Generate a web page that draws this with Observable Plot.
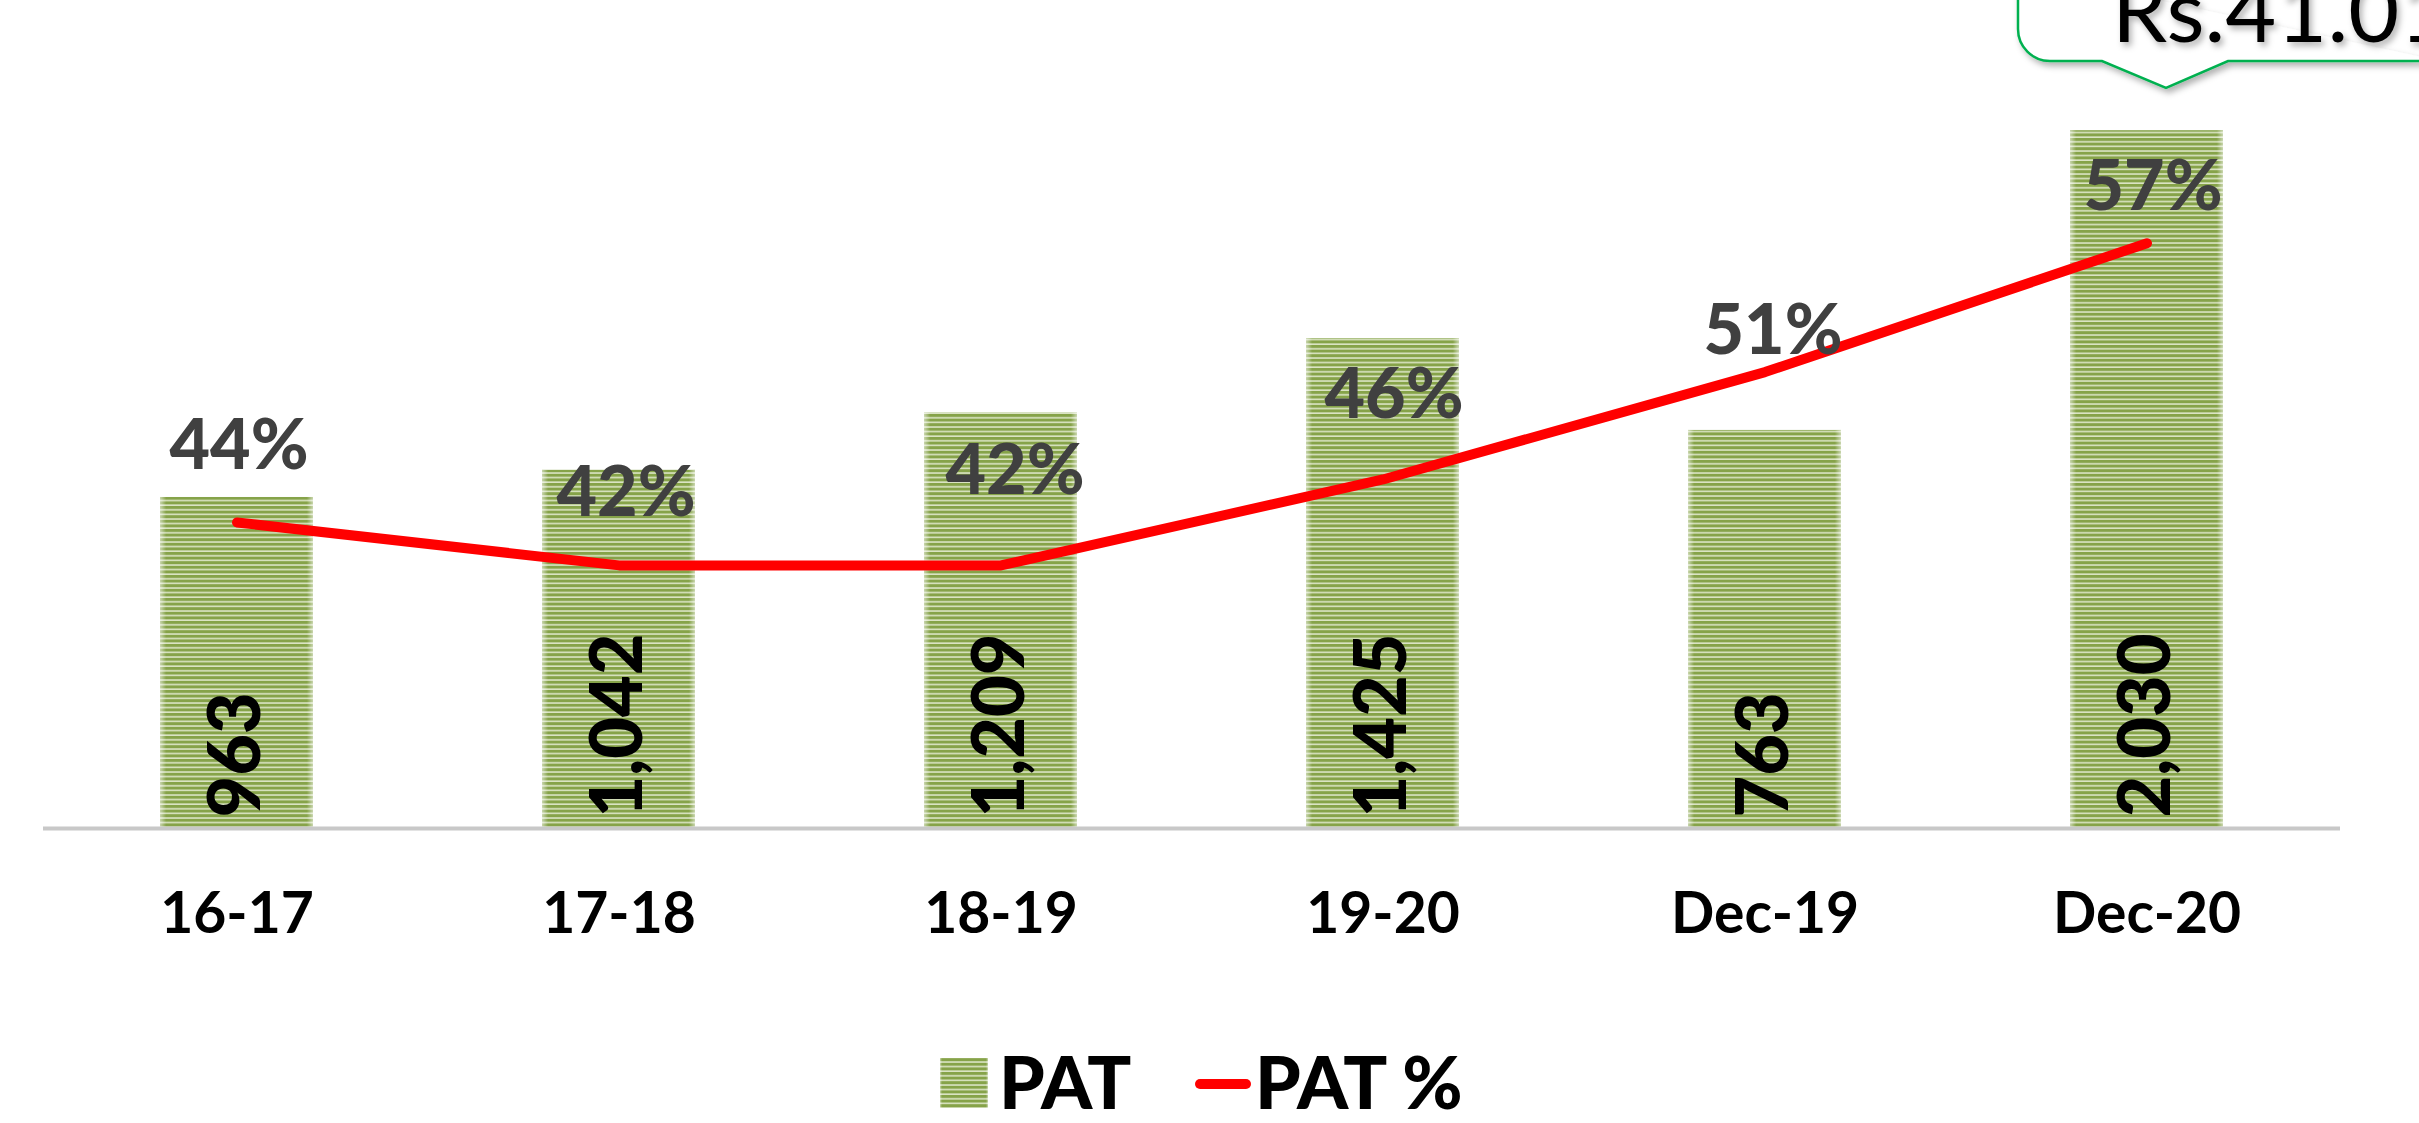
<!DOCTYPE html>
<html>
<head>
<meta charset="utf-8">
<script src="https://cdn.jsdelivr.net/npm/d3@7"></script>
<script src="https://cdn.jsdelivr.net/npm/@observablehq/plot@0.6"></script>
<style>
  html, body { margin: 0; padding: 0; background: #fff; }
  body { width: 2419px; height: 1123px; overflow: hidden; position: relative; font-family: Lato, "Open Sans", sans-serif; }
  #chart { position: absolute; left: 0; top: 0; }
  #legend { position: absolute; left: 0; top: 980px; }
  #callout { position: absolute; left: 0; top: 0; pointer-events: none; }
</style>
</head>
<body>
<svg width="0" height="0" style="position:absolute">
  <defs>
    <pattern id="stripes" patternUnits="userSpaceOnUse" width="10" height="4.6">
      <rect width="10" height="4.6" fill="#dbe4c4"/>
      <rect y="0" width="10" height="3" fill="#86a349"/>
    </pattern>
    <linearGradient id="edgeFade" x1="0" x2="1" y1="0" y2="0">
      <stop offset="0" stop-color="#fff" stop-opacity="0.55"/>
      <stop offset="0.04" stop-color="#fff" stop-opacity="0"/>
      <stop offset="0.96" stop-color="#fff" stop-opacity="0"/>
      <stop offset="1" stop-color="#fff" stop-opacity="0.55"/>
    </linearGradient>
    <filter id="shadow" x="-20%" y="-50%" width="140%" height="200%">
      <feDropShadow dx="3" dy="4" stdDeviation="3" flood-color="#000" flood-opacity="0.3"/>
    </filter>
  </defs>
</svg>
<div id="chart"></div>
<svg id="legend" width="2419" height="143"></svg>
<svg id="callout" width="2419" height="130"></svg>
<script>
// ---- data ----
const categories = ["16-17", "17-18", "18-19", "19-20", "Dec-19", "Dec-20"];
const patValues = [963, 1042, 1209, 1425, 1158, 2030];
const patLabels = ["963", "1,042", "1,209", "1,425", "763", "2,030"];
const patPct = [44, 42, 42, 46, 51, 57];
const pctLabelDx = [2, 7, 14, 11, 8, 6];
const pctLabelDy = [-76, -72, -94, -84, -41, -56];
const legendNames = ["PAT", "PAT %"];
const calloutText = "Rs.41.01";

// secondary (percent) axis mapped onto primary value axis
const pctToValue = d3.scaleLinear().domain([29.75, 60]).range([0, 1890]);

const data = categories.map((c, i) => ({
  cat: c, pat: patValues[i], label: patLabels[i], pct: patPct[i], pctY: pctToValue(patPct[i])
}));

const FONT = "Lato, 'Open Sans', sans-serif";
const W = 2419, H = 980;
const chart = Plot.plot({
  width: W,
  height: H,
  marginTop: 3,
  marginBottom: H - 828,
  marginLeft: 43,
  marginRight: W - 2340,
  style: { fontFamily: FONT, overflow: "visible", background: "transparent" },
  x: { domain: categories, paddingInner: 0.6, paddingOuter: 0.3, label: null },
  y: { domain: [0, 2400], axis: null },
  marks: [
    Plot.barY(data, { x: "cat", y: "pat", fill: "url(#stripes)" }),
    Plot.barY(data, { x: "cat", y: "pat", fill: "url(#edgeFade)" }),
    Plot.ruleY([0], { stroke: "#c8c8c8", strokeWidth: 4 }),
    Plot.text(data, {
      x: "cat", y: () => 0, text: "label", rotate: -90, textAnchor: "start", lineAnchor: "middle",
      dy: -11, fontSize: 72, fontWeight: 900, fill: "#000"
    }),
    Plot.line(data, {
      x: "cat", y: "pctY", stroke: "#ff0000", strokeWidth: 10,
      strokeLinecap: "round", strokeLinejoin: "round"
    }),
    ...data.map((d, i) => Plot.text([d], {
      x: "cat", y: "pctY", text: (e) => e.pct + "%", dx: pctLabelDx[i], dy: pctLabelDy[i],
      lineAnchor: "middle", fontSize: 70, fontWeight: 900, fill: "#404040"
    })),
    Plot.axisX({ tickSize: 0, tickPadding: 64, fontSize: 57, fontWeight: "bold", fill: "#000", color: "#000", label: null })
  ]
});
document.getElementById("chart").appendChild(chart);

// ---- legend ----
const lg = d3.select("#legend");
lg.append("rect").attr("x", 940).attr("y", 78).attr("width", 48).attr("height", 50).attr("fill", "url(#stripes)");
lg.append("rect").attr("x", 940).attr("y", 78).attr("width", 48).attr("height", 50).attr("fill", "url(#edgeFade)");
lg.append("text").attr("x", 999).attr("y", 129).attr("font-size", 73).attr("font-weight", 900)
  .attr("font-family", FONT).attr("fill", "#000").text(legendNames[0]);
lg.append("line").attr("x1", 1200).attr("x2", 1246).attr("y1", 104).attr("y2", 104)
  .attr("stroke", "#ff0000").attr("stroke-width", 10).attr("stroke-linecap", "round");
lg.append("text").attr("x", 1255).attr("y", 129).attr("font-size", 73).attr("font-weight", 900)
  .attr("font-family", FONT).attr("fill", "#000").text(legendNames[1]);

// ---- callout ----
const co = d3.select("#callout");
co.append("path")
  .attr("d", "M 2440 61 L 2228 61 L 2166 88 L 2102 61 L 2050 61 A 32 32 0 0 1 2018 29 L 2018 -30")
  .attr("fill", "#fff").attr("stroke", "#00b050").attr("stroke-width", 2.5).attr("filter", "url(#shadow)");
co.append("text").attr("x", 2112).attr("y", 42).attr("font-size", 88)
  .attr("font-family", FONT).attr("fill", "#000").attr("filter", "url(#shadow)")
  .text(calloutText);
</script>
</body>
</html>
